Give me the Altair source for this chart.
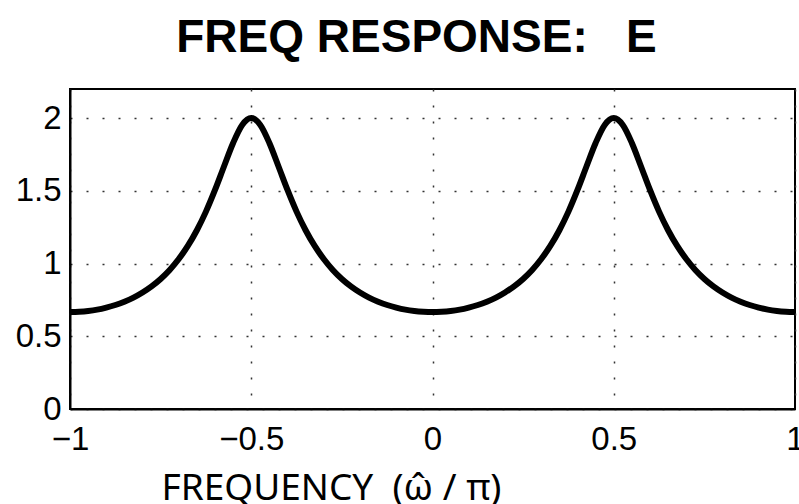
import altair as alt
import pandas as pd

freq = [-1.0, -0.975, -0.95, -0.925, -0.9, -0.875, -0.85, -0.825, -0.8, -0.775,
        -0.75, -0.725, -0.7, -0.675, -0.65, -0.625, -0.6, -0.575, -0.55, -0.525,
        -0.5, -0.475, -0.45, -0.425, -0.4, -0.375, -0.35, -0.325, -0.3, -0.275,
        -0.25, -0.225, -0.2, -0.175, -0.15, -0.125, -0.1, -0.075, -0.05, -0.025,
        0.0, 0.025, 0.05, 0.075, 0.1, 0.125, 0.15, 0.175, 0.2, 0.225,
        0.25, 0.275, 0.3, 0.325, 0.35, 0.375, 0.4, 0.425, 0.45, 0.475,
        0.5, 0.525, 0.55, 0.575, 0.6, 0.625, 0.65, 0.675, 0.7, 0.725,
        0.75, 0.775, 0.8, 0.825, 0.85, 0.875, 0.9, 0.925, 0.95, 0.975, 1.0]

mag = [0.667, 0.669, 0.674, 0.683, 0.697, 0.715, 0.738, 0.766, 0.801, 0.843,
       0.894, 0.956, 1.031, 1.121, 1.229, 1.357, 1.506, 1.669, 1.829, 1.953,
       2.0, 1.953, 1.829, 1.669, 1.506, 1.357, 1.229, 1.121, 1.031, 0.956,
       0.894, 0.843, 0.801, 0.766, 0.738, 0.715, 0.697, 0.683, 0.674, 0.669,
       0.667, 0.669, 0.674, 0.683, 0.697, 0.715, 0.738, 0.766, 0.801, 0.843,
       0.894, 0.956, 1.031, 1.121, 1.229, 1.357, 1.506, 1.669, 1.829, 1.953,
       2.0, 1.953, 1.829, 1.669, 1.506, 1.357, 1.229, 1.121, 1.031, 0.956,
       0.894, 0.843, 0.801, 0.766, 0.738, 0.715, 0.697, 0.683, 0.674, 0.669, 0.667]

x_ticks = [-1, -0.5, 0, 0.5, 1]
y_ticks = [0, 0.5, 1, 1.5, 2]

title_text = "FREQ RESPONSE:\u00a0\u00a0\u00a0E"
x_title = "FREQUENCY\u00a0\u00a0(ω̂\u00a0/\u00a0π)"

df = pd.DataFrame({"freq": freq, "mag": mag})

FONT = "Liberation Sans"

chart = alt.Chart(df).mark_line(
    color="black", strokeWidth=6, interpolate="monotone"
).encode(
    x=alt.X(
        "freq:Q",
        scale=alt.Scale(domain=[-1, 1], nice=False, zero=False),
        axis=alt.Axis(
            values=x_ticks, format="~g",
            title=x_title,
            titleFont="Noto Sans", titleFontSize=37, titleFontWeight="normal",
            titleColor="black",
            titleAnchor="start", titleAlign="left", titleBaseline="alphabetic",
            titleX=91, titleY=90,
            labelFont=FONT, labelFontSize=33, labelColor="black",
            labelPadding=14, labelFlush=False, labelOverlap=False,
            ticks=False, domain=True, domainColor="black", domainWidth=2,
            grid=True, gridColor="#333333", gridDash=[2, 14], gridWidth=1.5,
        ),
    ),
    y=alt.Y(
        "mag:Q",
        scale=alt.Scale(domain=[0, 2.2], nice=False),
        axis=alt.Axis(
            values=y_ticks, format="~g",
            title=None,
            labelFont=FONT, labelFontSize=33, labelColor="black",
            labelPadding=9, labelFlush=False, labelOverlap=False,
            ticks=False, domain=True, domainColor="black", domainWidth=2,
            grid=True, gridColor="#333333", gridDash=[2, 14], gridWidth=1.5,
        ),
    ),
).properties(
    width=725,
    height=320,
    title=alt.TitleParams(
        text=title_text,
        font=FONT, fontSize=46, fontWeight="bold", color="black",
        anchor="middle", baseline="alphabetic", frame="group",
        offset=34, dx=-16, dy=43,
    ),
    padding={"left": 70, "top": 89, "right": 4, "bottom": 95},
    autosize="none",
).configure_view(
    stroke="black", strokeWidth=2
)

chart.save("out.html", embed_options={"renderer": "svg", "actions": False})
